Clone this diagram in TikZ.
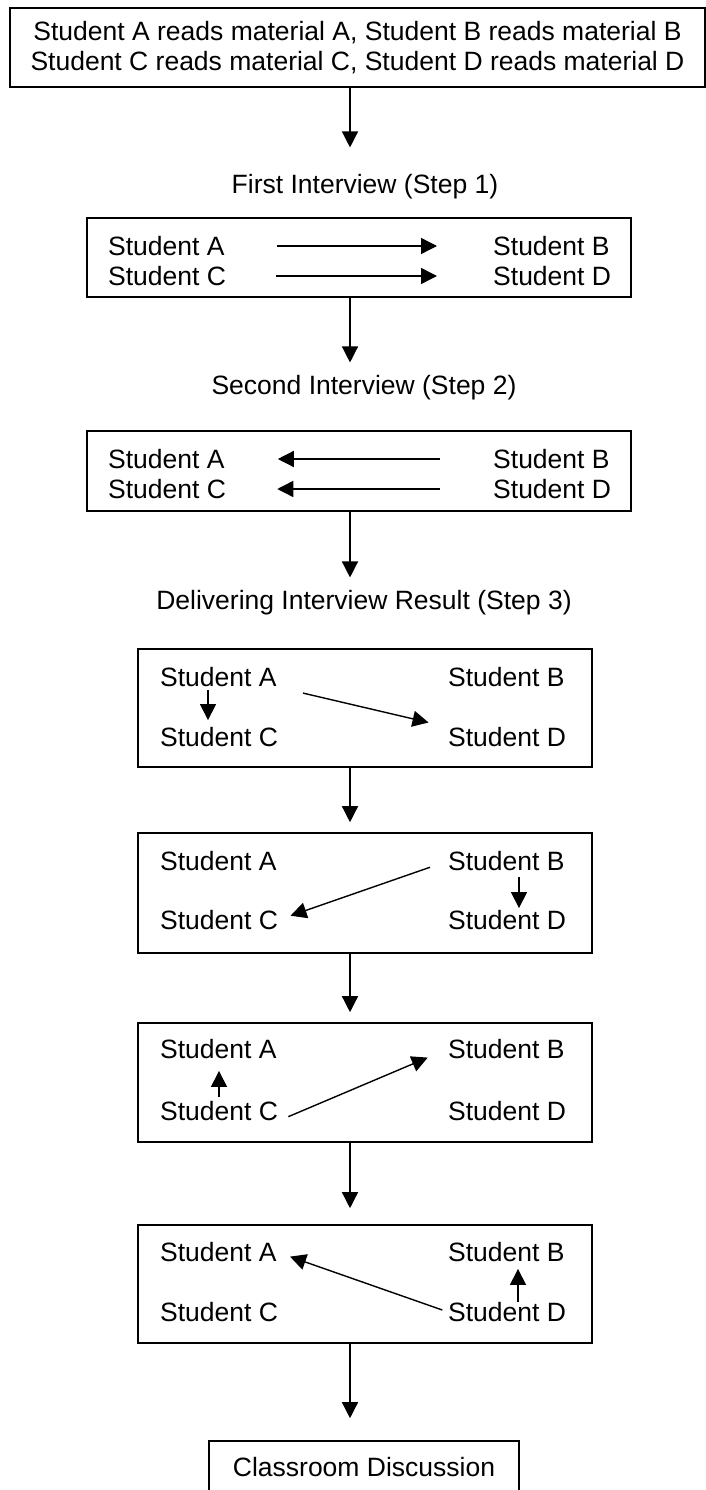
\documentclass[tikz,border=0pt]{standalone}
\usepackage{fontspec}
\setmainfont{Liberation Sans}
\usetikzlibrary{arrows.meta,positioning}
\tikzset{
  frm/.style={draw,line width=1.6pt,inner sep=0pt},
  stu/.style={anchor=west,inner sep=0pt},
  ttl/.style={inner sep=0pt},
  arr/.style={line width=1.4pt,-{Triangle[length=16pt,width=16pt]}},
}
\begin{document}
\begin{tikzpicture}[x=1pt,y=-1pt,font=\fontsize{26.5}{30}\selectfont]
  \path[use as bounding box,clip] (0,0) rectangle (706,1490);
  \coordinate (ax) at (350,0);
  \node[frm,minimum width=695pt,minimum height=79pt,align=center] (rd) at (357.5,47.5)
    {Student A reads material A, Student B reads material B\\Student C reads material C, Student D reads material D};
  \node[ttl] (t1) at (365,187) {First Interview (Step 1)};
  \node[frm,minimum width=544pt,minimum height=79pt] (k1) at (359,257.5) {};
  \node[stu] (a1) at (108,246) {Student A}; \node[stu] (b1) at (493,246) {Student B};
  \node[stu] (c1) at (108,276) {Student C}; \node[stu] (d1) at (493,276) {Student D};
  \draw[arr,shorten <=52pt,shorten >=56pt] (a1.east) -- (b1.west);
  \draw[arr,shorten <=50pt,shorten >=56pt] (c1.east) -- (d1.west);
  \node[ttl] (t2) at (364,388) {Second Interview (Step 2)};
  \node[frm,minimum width=544pt,minimum height=80pt] (k2) at (359,471) {};
  \node[stu] (a2) at (108,459) {Student A}; \node[stu] (b2) at (493,459) {Student B};
  \node[stu] (c2) at (108,489) {Student C}; \node[stu] (d2) at (493,489) {Student D};
  \draw[arr,shorten <=53pt,shorten >=53pt] (b2.west) -- (a2.east);
  \draw[arr,shorten <=53pt,shorten >=51pt] (d2.west) -- (c2.east);
  \node[ttl] (t3) at (364,603) {Delivering Interview Result (Step 3)};
  \node[frm,minimum width=454pt,minimum height=118pt] (k3) at (365,708) {};
  \node[stu] (a3) at (160,677) {Student A}; \node[stu] (b3) at (448,677) {Student B};
  \node[stu] (c3) at (160,737) {Student C}; \node[stu] (d3) at (448,737) {Student D};
  \draw[arr,shorten <=3pt,shorten >=7pt] ([xshift=48pt]a3.south west) -- ([xshift=48pt]c3.north west);
  \draw[arr,shorten <=27pt,shorten >=20pt] (a3.south east) -- (d3.north west);
  \node[frm,minimum width=454pt,minimum height=120pt] (k4) at (365,893) {};
  \node[stu] (a4) at (160,861) {Student A}; \node[stu] (b4) at (448,861) {Student B};
  \node[stu] (c4) at (160,920) {Student C}; \node[stu] (d4) at (448,920) {Student D};
  \draw[arr,shorten <=19pt,shorten >=13pt] (b4.west) -- (c4.east);
  \draw[arr,shorten <=6pt,shorten >=2pt] ([xshift=71pt]b4.south west) -- ([xshift=71pt]d4.north west);
  \node[frm,minimum width=454pt,minimum height=119pt] (k5) at (365,1082.5) {};
  \node[stu] (a5) at (160,1049) {Student A}; \node[stu] (b5) at (448,1049) {Student B};
  \node[stu] (c5) at (160,1111) {Student C}; \node[stu] (d5) at (448,1111) {Student D};
  \draw[arr,shorten <=4pt,shorten >=12pt] ([xshift=59pt]c5.north west) -- ([xshift=59pt]a5.south west);
  \draw[arr,shorten <=11pt,shorten >=22pt] (c5.south east) -- (b5.west);
  \node[frm,minimum width=454pt,minimum height=118pt] (k6) at (365,1284) {};
  \node[stu] (a6) at (160,1252) {Student A}; \node[stu] (b6) at (448,1252) {Student B};
  \node[stu] (c6) at (160,1312) {Student C}; \node[stu] (d6) at (448,1312) {Student D};
  \draw[arr,shorten <=6pt,shorten >=14pt] (d6.west) -- (a6.east);
  \draw[arr,shorten >=7pt] ([xshift=70pt]d6.north west) -- ([xshift=70pt]b6.south west);
  \node[frm,minimum width=310pt,minimum height=52pt] (cls) at (364,1467) {Classroom Discussion};
  \draw[arr,shorten >=27pt] (rd.south -| ax) -- (ax |- t1.north);
  \draw[arr,shorten >=13pt] (k1.south -| ax) -- (ax |- t2.north);
  \draw[arr,shorten >=13pt] (k2.south -| ax) -- (ax |- t3.north);
  \draw[arr,shorten >=10pt] (k3.south -| ax) -- (ax |- k4.north);
  \draw[arr,shorten >=10pt] (k4.south -| ax) -- (ax |- k5.north);
  \draw[arr,shorten >=16pt] (k5.south -| ax) -- (ax |- k6.north);
  \draw[arr,shorten >=22pt] (k6.south -| ax) -- (ax |- cls.north);
\end{tikzpicture}
\end{document}
